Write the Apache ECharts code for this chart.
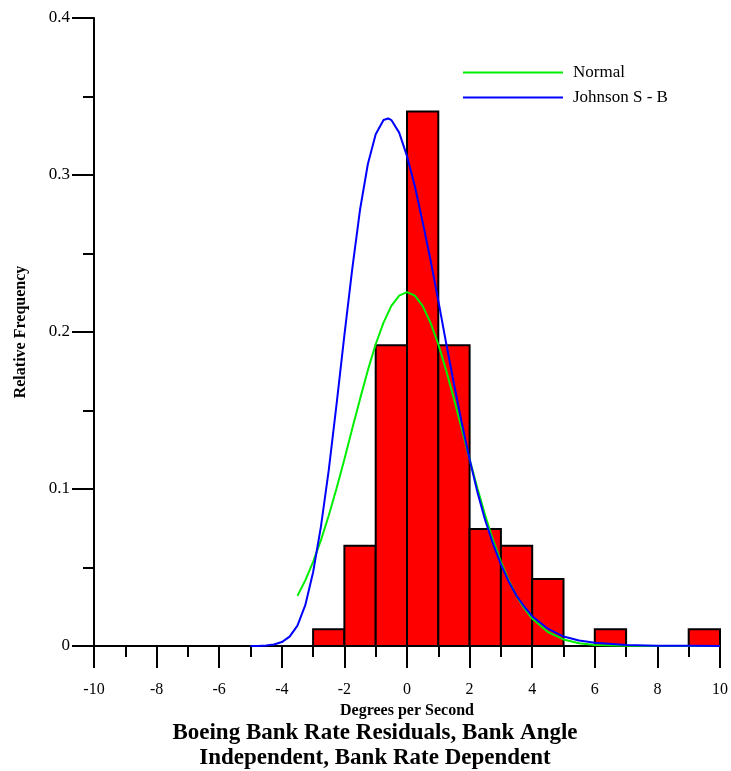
<!DOCTYPE html>
<html>
<head>
<meta charset="utf-8">
<script src="https://cdn.jsdelivr.net/npm/echarts@6/dist/echarts.min.js"></script>
<style>
html,body{margin:0;padding:0;background:#fff;}
#chart{width:731px;height:771px;}
</style>
</head>
<body>
<div id="chart"></div>
<script>
// Histogram bins (Degrees per Second) and relative frequencies
const binLeft  = [-3, -2, -1, 0, 1, 2, 3, 4, 5, 6, 7, 8, 9];
const binRight = [-2, -1, 0, 1, 2, 3, 4, 5, 6, 7, 8, 9, 10];
const relFreq  = [0.0106, 0.0638, 0.1915, 0.3404, 0.1915, 0.0745, 0.0638, 0.0426, 0, 0.0106, 0, 0, 0.0106];

// Normal fit curve
const normalX = [-3.5, -3.25, -3, -2.75, -2.5, -2.25, -2, -1.75, -1.5, -1.25, -1, -0.75, -0.5, -0.25, 0,
  0.25, 0.5, 0.75, 1, 1.25, 1.5, 1.75, 2, 2.25, 2.5, 2.75, 3, 3.25, 3.5, 3.75, 4, 4.5, 5, 5.5, 6, 7, 8, 9, 10];
const normalY = [0.0319, 0.0418, 0.0536, 0.0674, 0.0831, 0.1005, 0.1190, 0.1383, 0.1574, 0.1757, 0.1922, 0.2060, 0.2166, 0.2232, 0.2254,
  0.2232, 0.2166, 0.2060, 0.1922, 0.1757, 0.1574, 0.1383, 0.1190, 0.1005, 0.0831, 0.0674, 0.0536, 0.0418, 0.0319, 0.0239, 0.0175, 0.0089, 0.0042, 0.0018, 0.0007, 0.0001, 0, 0, 0];

// Johnson S-B fit curve
const johnsonX = [-5, -4.75, -4.5, -4.25, -4, -3.75, -3.5, -3.25, -3, -2.75, -2.5, -2.25, -2, -1.75, -1.5, -1.25, -1, -0.75, -0.6, -0.5, -0.25, 0,
  0.25, 0.5, 0.75, 1, 1.25, 1.5, 1.75, 2, 2.25, 2.5, 2.75, 3, 3.25, 3.5, 3.75, 4, 4.5, 5, 5.5, 6, 7, 8, 9, 10];
const johnsonY = [0, 0, 0.0003, 0.001, 0.0025, 0.006, 0.013, 0.026, 0.047, 0.076, 0.112, 0.154, 0.198, 0.240, 0.278, 0.307, 0.326, 0.335, 0.336, 0.335, 0.327, 0.312,
  0.293, 0.270, 0.246, 0.220, 0.193, 0.167, 0.142, 0.119, 0.098, 0.080, 0.065, 0.052, 0.041, 0.032, 0.025, 0.019, 0.011, 0.006, 0.0035, 0.002, 0.0007, 0.0002, 0.0001, 0];

const FONT = "'Liberation Serif', 'Times New Roman', serif";

const histData = binLeft.map((l, i) => [l, binRight[i], relFreq[i]]);
const normalData = normalX.map((x, i) => [x, normalY[i]]);
const johnsonData = johnsonX.map((x, i) => [x, johnsonY[i]]);

const chart = echarts.init(document.getElementById('chart'), null, {renderer: 'canvas'});
const axisLineStyle = {color: '#000', width: 2};
chart.setOption({
  animation: false,
  backgroundColor: '#fff',
  title: {
    text: 'Boeing Bank Rate Residuals, Bank Angle\nIndependent, Bank Rate Dependent',
    left: 370,
    textAlign: 'center',
    top: 716,
    textStyle: {fontFamily: FONT, fontSize: 23, fontWeight: 'bold', color: '#000', lineHeight: 25}
  },
  legend: {
    orient: 'vertical',
    left: 463,
    top: 64,
    padding: 0,
    itemWidth: 100,
    itemHeight: 2,
    itemGap: 8,
    icon: 'rect',
    textStyle: {fontFamily: FONT, fontSize: 17, color: '#000', padding: [0, 0, 0, 5]},
    data: ['Normal', 'Johnson S - B']
  },
  grid: {left: 94, right: 10, top: 18, bottom: 125, containLabel: false},
  xAxis: {
    type: 'value',
    min: -10, max: 10, interval: 2,
    name: 'Degrees per Second',
    nameLocation: 'middle',
    nameGap: 50,
    nameTextStyle: {fontFamily: FONT, fontSize: 16, fontWeight: 'bold', color: '#000'},
    axisLine: {show: true, onZero: false, lineStyle: axisLineStyle},
    axisTick: {show: true, inside: false, length: 22, lineStyle: axisLineStyle},
    minorTick: {show: true, splitNumber: 2, length: 11, lineStyle: axisLineStyle},
    axisLabel: {fontFamily: FONT, fontSize: 16, color: '#000', margin: 36},
    splitLine: {show: false}
  },
  yAxis: {
    type: 'value',
    min: 0, max: 0.4, interval: 0.1,
    name: 'Relative Frequency',
    nameLocation: 'middle',
    nameGap: 65,
    nameTextStyle: {fontFamily: FONT, fontSize: 16, fontWeight: 'bold', color: '#000'},
    axisLine: {show: true, onZero: false, lineStyle: axisLineStyle},
    axisTick: {show: true, inside: false, length: 22, lineStyle: axisLineStyle},
    minorTick: {show: true, splitNumber: 2, length: 11, lineStyle: axisLineStyle},
    axisLabel: {fontFamily: FONT, fontSize: 17, color: '#000', margin: 24, formatter: v => (v === 0 ? '0' : v.toFixed(1))},
    splitLine: {show: false}
  },
  series: [
    {
      name: 'Histogram',
      type: 'custom',
      data: histData,
      z: 1,
      renderItem: function (params, api) {
        const x0 = api.value(0), x1 = api.value(1), y = api.value(2);
        if (!(y > 0)) return null;
        const p0 = api.coord([x0, y]);
        const p1 = api.coord([x1, 0]);
        return {
          type: 'rect',
          shape: {x: p0[0], y: p0[1], width: p1[0] - p0[0], height: p1[1] - p0[1]},
          style: {fill: '#FF0000', stroke: '#000', lineWidth: 2}
        };
      }
    },
    {
      name: 'Normal',
      type: 'line',
      data: normalData,
      showSymbol: false,
      symbol: 'none',
      smooth: false,
      z: 3,
      lineStyle: {color: '#00EE00', width: 2},
      itemStyle: {color: '#00EE00'}
    },
    {
      name: 'Johnson S - B',
      type: 'line',
      data: johnsonData,
      showSymbol: false,
      symbol: 'none',
      smooth: false,
      z: 4,
      lineStyle: {color: '#0000FF', width: 2},
      itemStyle: {color: '#0000FF'}
    }
  ]
});
</script>
</body>
</html>
